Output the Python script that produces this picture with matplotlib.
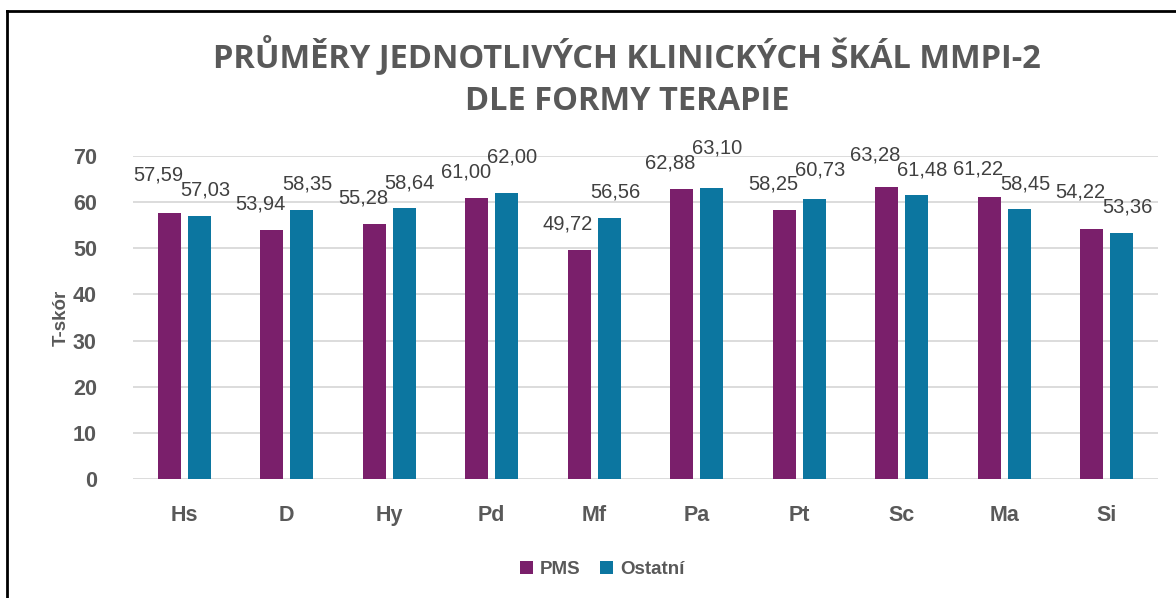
import numpy as np
import matplotlib
matplotlib.use('Agg')
import matplotlib.pyplot as plt
from matplotlib.lines import Line2D

# data
scales = ['Hs', 'D', 'Hy', 'Pd', 'Mf', 'Pa', 'Pt', 'Sc', 'Ma', 'Si']
pms = [57.59, 53.94, 55.28, 61.00, 49.72, 62.88, 58.25, 63.28, 61.22, 54.22]
ostatni = [57.03, 58.35, 58.64, 62.00, 56.56, 63.10, 60.73, 61.48, 58.45, 53.36]
yticks = [0, 10, 20, 30, 40, 50, 60, 70]

purple = '#7a1f6b'
blue = '#0c76a0'
grey = '#595959'

fig = plt.figure(figsize=(11.76, 5.98), dpi=100)
ax = fig.add_axes([0.1131, 0.199, 0.8716, 0.540])

x = np.arange(len(scales))
w = 0.225
b1 = ax.bar(x - 0.147, pms, w, color=purple, label='PMS', zorder=3)
b2 = ax.bar(x + 0.147, ostatni, w, color=blue, label='Ostatní', zorder=3)

# popisky hodnot - vyssi sloupec ma popisek posunuty nahoru, aby se neprekryvaly
base = 5.6   # odsazeni nad sloupcem (jednotky osy)
gap = 3.2    # minimalni svisly rozestup popisku
for i in range(len(scales)):
    a, b = pms[i], ostatni[i]
    ya, yb = a + base, b + base
    if a >= b:
        ya = max(ya, yb + gap)
    else:
        yb = max(yb, ya + gap)
    for xx, v, yy, dx in ((x[i] - 0.147, a, ya, -8), (x[i] + 0.147, b, yb, 4)):
        ax.annotate(f'{v:.2f}'.replace('.', ','), (xx, yy),
                    xytext=(dx, 0), textcoords='offset points',
                    ha='center', va='center', fontsize=14.5,
                    family='Liberation Sans', color='#404040',
                    annotation_clip=False, zorder=4)

ax.set_xlim(-0.5, len(scales) - 0.5)
ax.set_ylim(0, 70)
ax.set_yticks(yticks)
ax.set_xticks(x)
ax.set_xticklabels(scales)
ax.grid(axis='y', color='#d9d9d9', linewidth=1.3, zorder=0)
for s in ax.spines.values():
    s.set_visible(False)
ax.tick_params(length=0)
ax.tick_params(axis='y', pad=26)
ax.tick_params(axis='x', pad=19)
for t in ax.get_xticklabels() + ax.get_yticklabels():
    t.set_fontsize(15.5)
    t.set_fontweight('bold')
    t.set_color(grey)
    t.set_family('Liberation Sans')

ax.set_ylabel('T-skór', fontsize=13.5, fontweight='bold', color=grey,
              family='Liberation Sans', labelpad=2)

fig.text(0.533, 0.908, 'PRŮMĚRY JEDNOTLIVÝCH KLINICKÝCH ŠKÁL MMPI-2',
         ha='center', va='center', fontsize=23.5, fontweight='bold',
         color=grey, family='Open Sans')
fig.text(0.533, 0.831, 'DLE FORMY TERAPIE',
         ha='center', va='center', fontsize=23.5, fontweight='bold',
         color=grey, family='Open Sans')

leg = fig.legend(handles=[b1, b2], loc='center', bbox_to_anchor=(0.512, 0.048),
                 ncol=2, frameon=False, handlelength=0.7, handleheight=0.7,
                 handletextpad=0.4, columnspacing=1.0,
                 prop={'family': 'Liberation Sans', 'weight': 'bold', 'size': 13.5})
for t in leg.get_texts():
    t.set_color(grey)

# ramecek
fig.add_artist(Line2D([7 / 1176, 1], [1 - 11 / 598, 1 - 11 / 598], color='black', linewidth=2))
fig.add_artist(Line2D([7 / 1176, 7 / 1176], [0, 1 - 11 / 598], color='black', linewidth=2))

fig.savefig('out.png', dpi=100)
